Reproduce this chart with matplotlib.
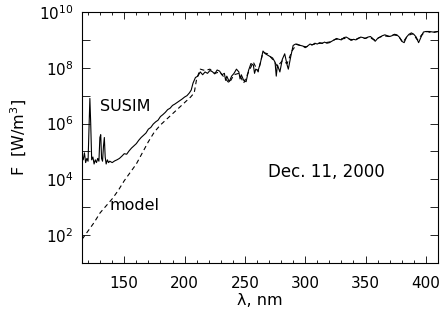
import matplotlib
matplotlib.use('Agg')
import matplotlib.pyplot as plt
import numpy as np
from matplotlib.ticker import FixedLocator, FuncFormatter, MultipleLocator

plt.rcParams['font.family'] = 'DejaVu Sans'
plt.rcParams['mathtext.fontset'] = 'custom'
plt.rcParams['mathtext.rm'] = 'DejaVu Sans'

# SUSIM spectrum, Dec. 11, 2000 : wavelength (nm) and log10 F (W/m^3)
susim_wl = [115, 116, 117, 118, 119, 120, 120.8, 121.5, 122.2, 123, 124, 125, 126, 127,
            128, 129, 129.8, 130.5, 131.2, 132, 132.8, 133.5, 134.2, 135, 136, 137, 138,
            140, 142, 144, 146, 148, 150, 152, 154, 156, 158, 160, 162, 164, 166, 168,
            170, 172, 174, 176, 178, 180, 182, 184, 186, 188, 190, 192, 194, 196, 198,
            200, 202, 204, 205.5, 207, 209, 211,
            213, 215, 217, 219, 221, 223, 225, 227, 229, 231, 233, 234, 235, 237, 239, 241,
            243, 245, 246, 247, 249, 251, 253, 255, 257, 258, 259, 261, 263, 265, 267, 269, 271,
            273, 275, 276, 277, 279, 281, 283, 285, 286, 288, 290, 292, 294, 296, 298, 300,
            302, 304, 306, 308, 310, 312, 314, 316, 318, 320, 322, 324, 326, 328, 330,
            332, 334, 336, 338, 340, 342, 344, 346, 348, 350, 352, 354, 356, 358, 360,
            362, 364, 366, 368, 370, 372, 374, 376, 378, 380, 382, 384, 386, 388, 390,
            392, 394, 396, 398, 400, 403, 406, 410]
susim_logf = [4.85, 4.7, 4.95, 4.6, 4.75, 4.65, 5.9, 6.9, 6.0, 4.7, 4.8, 4.55, 4.7, 4.6,
              4.75, 4.65, 5.5, 5.6, 4.75, 4.65, 5.2, 5.5, 4.8, 4.55, 4.7, 4.6, 4.65,
              4.6, 4.66, 4.7, 4.75, 4.83, 4.92, 4.9, 5.02, 5.12, 5.2, 5.28, 5.4, 5.5, 5.58, 5.66,
              5.8, 5.86, 5.98, 6.06, 6.12, 6.25, 6.32, 6.4, 6.5, 6.55, 6.65, 6.7, 6.76, 6.82, 6.88,
              6.95, 7.0, 7.1, 7.2, 7.45, 7.65, 7.7,
              7.85, 7.75, 7.85, 7.8, 7.9, 7.86, 7.78, 7.92, 7.88, 7.75, 7.8, 7.55, 7.7, 7.5, 7.7, 7.8,
              7.95, 7.85, 7.6, 7.75, 7.55, 7.5, 7.9, 8.15, 8.1, 7.8, 7.95, 7.9, 8.2, 8.6, 8.5, 8.45, 8.4,
              8.35, 8.2, 7.7, 8.1, 7.85, 8.3, 8.5, 8.1, 7.95, 8.4, 8.8, 8.85, 8.82, 8.8, 8.78, 8.72,
              8.78, 8.85, 8.82, 8.88, 8.85, 8.9, 8.87, 8.92, 8.88, 8.9, 8.95, 9.0, 9.05, 9.02, 9.0,
              9.08, 9.1, 9.05, 8.98, 9.02, 9.0, 9.05, 9.1, 9.08, 9.05, 9.1, 9.12, 9.05, 8.95, 9.05,
              9.1, 9.15, 9.18, 9.15, 9.12, 9.15, 9.2, 9.18, 9.1, 8.95, 8.9, 9.1, 9.2, 9.25, 9.2,
              9.1, 8.9, 9.1, 9.28, 9.3, 9.3, 9.28, 9.3]

# model spectrum
model_wl = [115, 120, 125, 130, 135, 140, 145, 150, 155, 160, 165, 170, 175, 180, 185,
            190, 195, 200, 205, 208, 210, 213, 217, 221, 225, 229, 233, 237, 241, 245,
            249, 253, 257, 261, 265, 269, 273, 277, 281, 285, 289, 293, 297, 301, 305,
            309, 313, 317, 321, 325, 329, 333, 337, 341, 345, 349, 353, 357, 361, 365,
            369, 373, 377, 381, 385, 389, 393, 397, 401, 405, 410]
model_logf = [1.85, 2.15, 2.45, 2.8, 3.05, 3.3, 3.6, 3.95, 4.25, 4.55, 4.95, 5.35, 5.7, 5.95, 6.15,
              6.35, 6.55, 6.75, 6.95, 7.1, 7.6, 7.95, 7.9, 7.95, 7.8, 7.85, 7.65, 7.45, 7.75, 7.8,
              7.45, 7.85, 8.2, 7.85, 8.55, 8.5, 8.3, 8.05, 8.25, 8.15, 8.6, 8.85, 8.78, 8.75, 8.82,
              8.86, 8.88, 8.9, 8.93, 9.02, 9.03, 9.05, 9.02, 9.0, 9.08, 9.05, 9.1, 9.0, 9.08, 9.15,
              9.12, 9.18, 9.15, 8.92, 9.15, 9.22, 9.0, 9.2, 9.3, 9.25, 9.3]

fig = plt.figure(figsize=(4.41, 3.15), dpi=100)
ax = fig.add_axes([0.186, 0.165, 0.807, 0.797])

ax.plot(susim_wl, 10 ** np.array(susim_logf), color='k', lw=0.8)
ax.plot(model_wl, 10 ** np.array(model_logf), color='k', lw=0.8, dashes=(4, 3))

ax.set_yscale('log')
ax.set_xlim(115, 410)
ax.set_ylim(10, 1e10)

ax.xaxis.set_major_locator(MultipleLocator(50))
ax.xaxis.set_minor_locator(MultipleLocator(10))
ax.yaxis.set_major_locator(FixedLocator([10.0 ** k for k in range(1, 11)]))
ax.yaxis.set_minor_locator(FixedLocator([]))


def ylab(v, pos):
    k = int(round(np.log10(v)))
    if k % 2 == 0:
        return r'$\mathregular{10^{%d}}$' % k
    return ''


ax.yaxis.set_major_formatter(FuncFormatter(ylab))
ax.tick_params(which='both', direction='in', top=True, right=True, labelsize=11, width=0.6)
ax.tick_params(axis='x', which='major', length=5, pad=9)
ax.tick_params(axis='x', which='minor', length=2.5)
ax.tick_params(axis='y', which='major', length=6, pad=6)
for s in ax.spines.values():
    s.set_linewidth(0.8)

ax.set_xlabel('λ, nm', fontsize=11.5, labelpad=2)
ax.set_ylabel(r'F  [W/m$^3$]', fontsize=11.5, labelpad=7)

ax.text(129.5, 10 ** 6.6, 'SUSIM', fontsize=11.5, va='center')
ax.text(138, 10 ** 3.05, 'model', fontsize=11.5, va='center')
ax.text(269, 10 ** 4.25, 'Dec. 11, 2000', fontsize=12, va='center')

fig.savefig('out.png', dpi=100)
